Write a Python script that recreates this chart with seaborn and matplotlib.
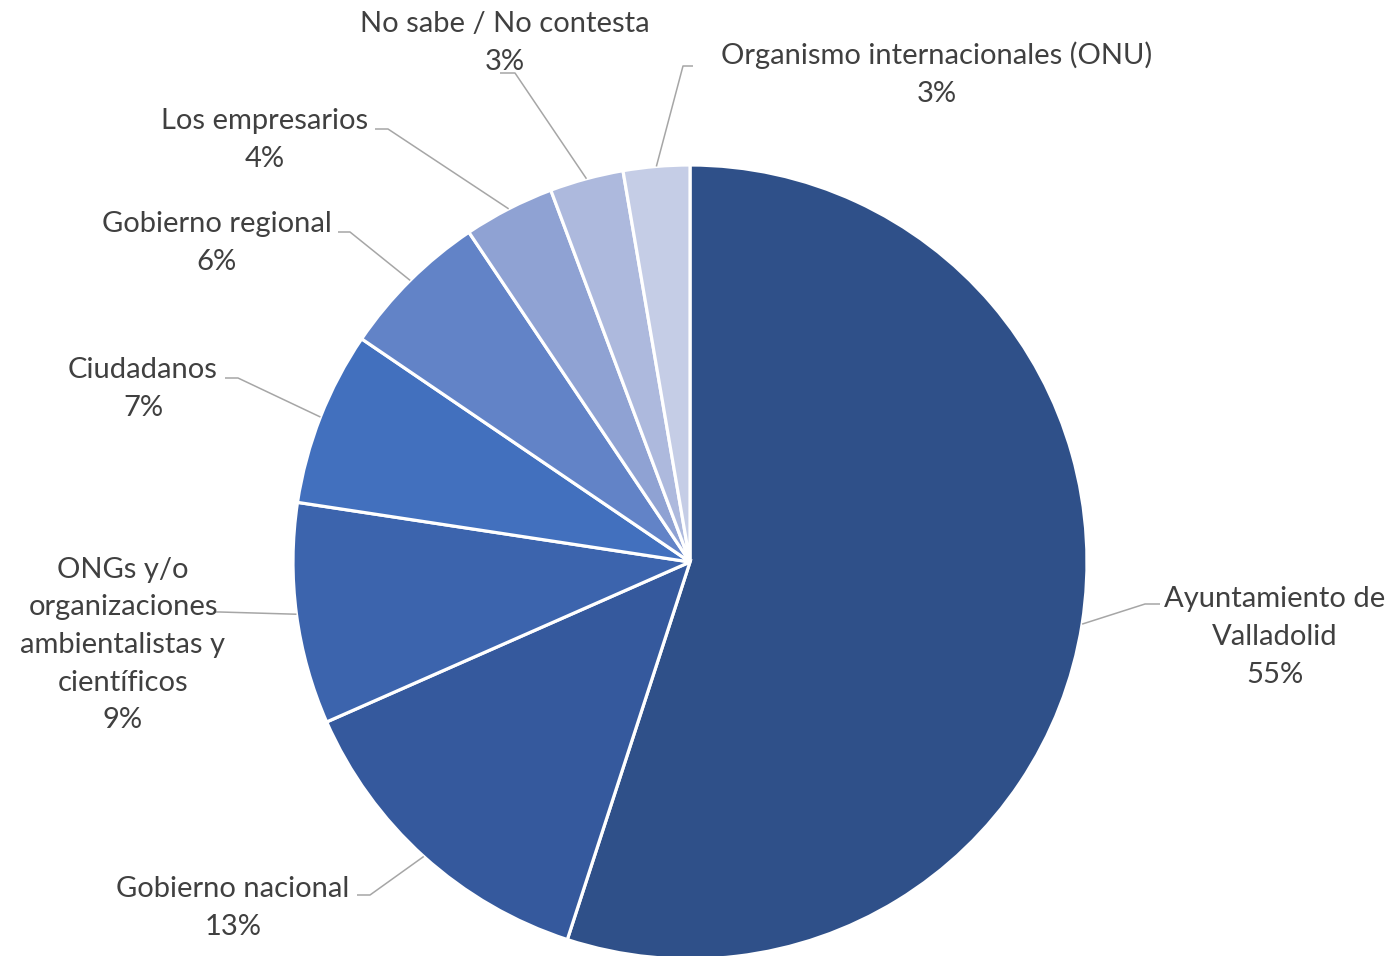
import numpy as np
import matplotlib.pyplot as plt
import seaborn as sns

# data
labels = ["Ayuntamiento de\nValladolid", "Gobierno nacional",
          "ONGs y/o\norganizaciones\nambientalistas y\ncientíficos",
          "Ciudadanos", "Gobierno regional", "Los empresarios",
          "No sabe / No contesta", "Organismo internacionales (ONU)"]
values = [55.0, 13.4, 9.0, 7.1, 6.1, 3.7, 3.0, 2.7]
pct_text = ["55%", "13%", "9%", "7%", "6%", "4%", "3%", "3%"]
colors = ["#2F5089", "#35599D", "#3C64AD", "#4270BE",
          "#6283C7", "#8FA2D3", "#ADB9DD", "#C5CDE6"]

# layout (image pixel coords, y down)
W, H = 1396, 956
center = (690, 562)
radius = 397
text_pos = [(1275, 637), (233, 908), (123, 645), (143, 389),
            (217, 243), (265, 140), (505, 43), (937, 74)]
line_end = [(1160, 604), (357, 895), (213, 612), (225, 378),
            (338, 232), (375, 129), (500, 73), (693, 66)]
elbow = [(1145, 604), (370, 895), (220, 612), (238, 378),
         (350, 232), (388, 129), (515, 73), (683, 66)]

sns.set_theme(style="white")
plt.rcParams['font.family'] = ['Lato', 'DejaVu Sans']

fig = plt.figure(figsize=(W / 100, H / 100), dpi=100)
ax = fig.add_axes([0, 0, 1, 1])

wedges, _ = ax.pie(values, colors=colors, startangle=90, counterclock=False,
                   center=(center[0], H - center[1]), radius=radius,
                   wedgeprops=dict(edgecolor="white", linewidth=2.3),
                   frame=True)
ax.set_xlim(0, W)
ax.set_ylim(0, H)
ax.axis("off")

# leader lines + labels
for i, w in enumerate(wedges):
    mid = np.deg2rad((w.theta1 + w.theta2) / 2)
    ex = center[0] + radius * np.cos(mid)
    ey = (H - center[1]) + radius * np.sin(mid)
    xs = [ex, elbow[i][0], line_end[i][0]]
    ys = [ey, H - elbow[i][1], H - line_end[i][1]]
    ax.plot(xs, ys, color="#A6A6A6", lw=1.1, solid_capstyle="butt")
    tx, ty = text_pos[i]
    ax.text(tx, H - ty, labels[i] + "\n" + pct_text[i], ha="center", va="center",
            fontsize=21, color="#404040", linespacing=1.55)

fig.savefig("out.png", dpi=100)
